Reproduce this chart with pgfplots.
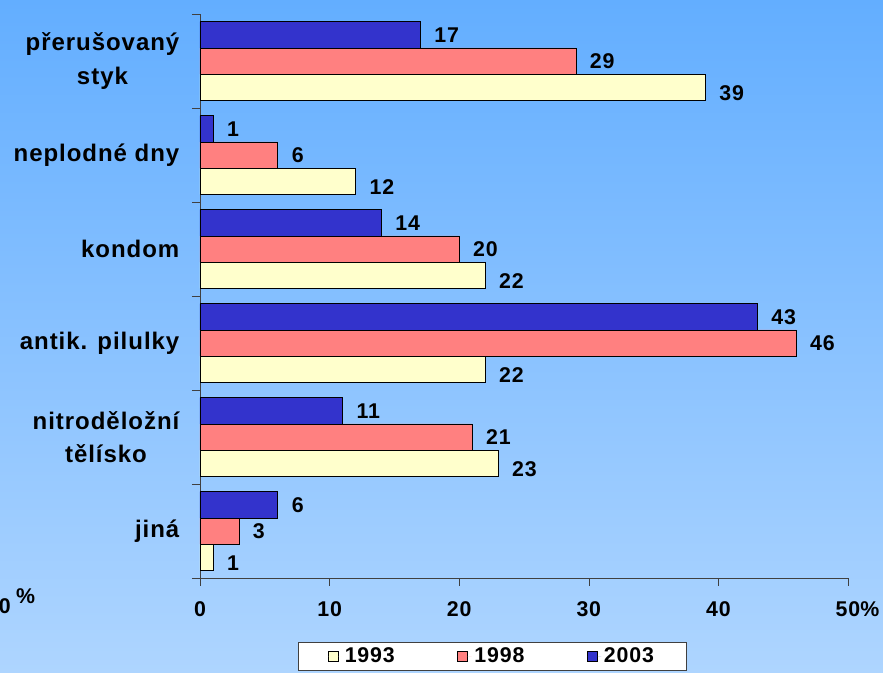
\documentclass[border=0pt]{standalone}
\usepackage{pgfplots}
\pgfplotsset{compat=1.18}
\usepackage{fontspec}
\setmainfont{Liberation Sans}[LetterSpace=4]
\definecolor{bgtop}{RGB}{99,174,255}
\definecolor{bgbot}{RGB}{174,213,255}
\definecolor{c93}{RGB}{255,255,204}
\definecolor{c98}{RGB}{255,128,128}
\definecolor{c03}{RGB}{51,51,204}
\definecolor{axisgray}{RGB}{64,64,64}

\begin{document}
\begin{tikzpicture}[font=\bfseries\fontsize{16}{19}\selectfont]
\useasboundingbox (0,0) rectangle (662.25pt,504.75pt);
\clip (0,0) rectangle (662.25pt,504.75pt);
\shade[top color=bgtop,bottom color=bgbot] (0,0) rectangle (662.25pt,504.75pt);
\begin{axis}[
    at={(150pt,71.25pt)}, anchor=south west,
    width=486pt, height=423pt, scale only axis,
    xbar, bar width=19.7pt,
    xmin=0, xmax=50, ymin=-0.5, ymax=5.5,
    axis lines*=left,
    axis line style={-,draw=axisgray},
    /pgf/number format/assume math mode=true,
    xtick={0,10,...,50},
    xticklabels={0,10,20,30,40,50\rlap{\%}},
    ytick={0,...,5},
    yticklabels={jiná,{nitroděložní\\tělísko},antik. pilulky,kondom,neplodné dny,{přerušovaný\\styk}},
    minor ytick={-0.5,0.5,...,5.5},
    tick align=outside,
    major tick length=6pt, minor tick length=6pt,
    major y tick style={draw=none},
    minor y tick style={draw=axisgray},
    major x tick style={draw=axisgray},
    xticklabel style={yshift=-8pt},
    yticklabel style={align=center, font=\bfseries\fontsize{18}{25}\selectfont, xshift=-6pt},
    point meta=x,
    nodes near coords,
    every node near coord/.append style={anchor=west, xshift=7pt, font=\bfseries\fontsize{16}{19}\selectfont},
    legend style={at={(0.451,-0.1135)}, anchor=north, legend columns=3,
        draw=axisgray, fill=white, inner xsep=22pt,
        /tikz/every even column/.append style={column sep=45pt}},
    legend image code/.code={\draw[#1] (0pt,-3.75pt) rectangle (7.5pt,3.75pt); \path[draw=none] (0pt,0pt) -- (10.5pt,0pt);},
]
\addplot[fill=c93, draw=black, bar shift=-19.7pt,
    every node near coord/.append style={yshift=-4.5pt}]
    coordinates {(1,0)(23,1)(22,2)(22,3)(12,4)(39,5)};
\addplot[fill=c98, draw=black, bar shift=0pt]
    coordinates {(3,0)(21,1)(46,2)(20,3)(6,4)(29,5)};
\addplot[fill=c03, draw=black, bar shift=19.7pt]
    coordinates {(6,0)(11,1)(43,2)(14,3)(1,4)(17,5)};
\legend{1993,1998,2003}
\end{axis}
\node[anchor=base west, inner sep=0pt] at (-1pt,44.25pt) {0\hspace{4pt}\raisebox{8pt}{\%}};
\end{tikzpicture}
\end{document}
